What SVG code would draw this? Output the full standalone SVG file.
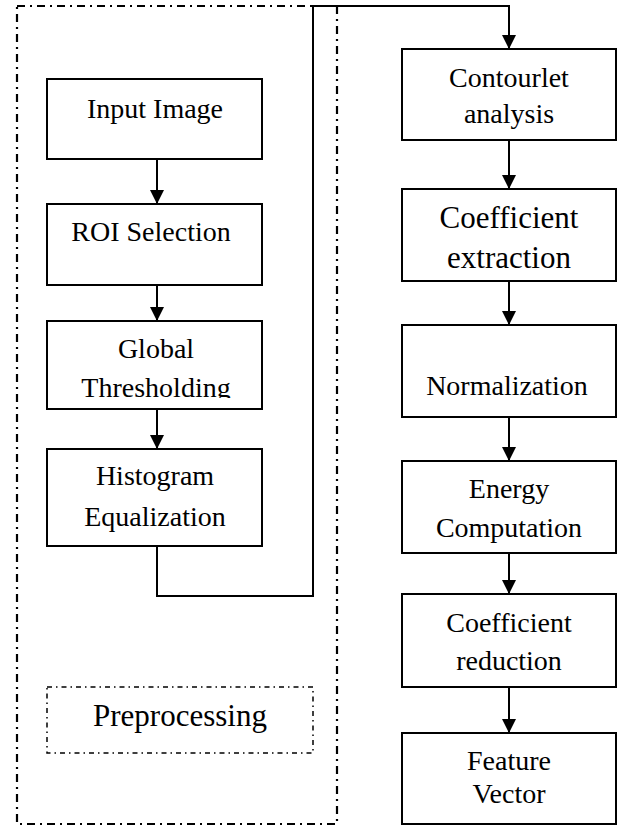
<svg xmlns="http://www.w3.org/2000/svg" width="618" height="826" viewBox="0 0 618 826">
<style>
.box{fill:#fff;stroke:#000;stroke-width:2}
text{font-family:'Liberation Serif','Times New Roman','DejaVu Serif',serif;font-size:28px;fill:#000;text-anchor:middle}
text.big{font-size:31px}
.ln{fill:none;stroke:#000;stroke-width:2}
.outer{fill:none;stroke:#000;stroke-width:2.2;stroke-dasharray:8 5 2 5}
.pre{fill:none;stroke:#000;stroke-width:1.5;stroke-dasharray:5 4 1.5 4}
</style>
<defs>
<marker id="ah" viewBox="0 0 14 14" refX="14" refY="7" markerWidth="14" markerHeight="14" markerUnits="userSpaceOnUse" orient="auto">
<path d="M0,0 L14,7 L0,14 Z" fill="#000"/>
</marker>
<clipPath id="clipThr"><rect x="47" y="321" width="215" height="77"/></clipPath>
</defs>
<rect class="outer" x="17" y="6" width="320" height="818"/>
<g id="preprocessing">
<rect class="pre" x="47" y="687" width="266" height="66"/>
<text class="big" x="180" y="726">Preprocessing</text>
</g>
<g id="connectors">
<line class="ln" x1="157" y1="159" x2="157" y2="204" marker-end="url(#ah)"/>
<line class="ln" x1="157" y1="285" x2="157" y2="321" marker-end="url(#ah)"/>
<line class="ln" x1="157" y1="409" x2="157" y2="449" marker-end="url(#ah)"/>
<polyline class="ln" points="157,546 157,596 313,596 313,6 509,6 509,49" marker-end="url(#ah)"/>
<line class="ln" x1="509" y1="140" x2="509" y2="189" marker-end="url(#ah)"/>
<line class="ln" x1="509" y1="281" x2="509" y2="325" marker-end="url(#ah)"/>
<line class="ln" x1="509" y1="417" x2="509" y2="461" marker-end="url(#ah)"/>
<line class="ln" x1="509" y1="553" x2="509" y2="594" marker-end="url(#ah)"/>
<line class="ln" x1="509" y1="687" x2="509" y2="733" marker-end="url(#ah)"/>
</g>
<g id="input-image">
<rect class="box" x="47" y="79" width="215" height="80"/>
<text x="155" y="118">Input Image</text>
</g>
<g id="roi-selection">
<rect class="box" x="47" y="204" width="215" height="81"/>
<text x="151" y="241">ROI Selection</text>
</g>
<g id="global-thresholding">
<rect class="box" x="47" y="321" width="215" height="88"/>
<g clip-path="url(#clipThr)">
<text x="156" y="358">Global</text>
<text x="156" y="397">Thresholding</text>
</g>
</g>
<g id="histogram-equalization">
<rect class="box" x="47" y="449" width="215" height="97"/>
<text x="155" y="485">Histogram</text>
<text x="155" y="526">Equalization</text>
</g>
<g id="contourlet-analysis">
<rect class="box" x="402" y="49" width="214" height="91"/>
<text x="509" y="87">Contourlet</text>
<text x="509" y="123">analysis</text>
</g>
<g id="coefficient-extraction">
<rect class="box" x="402" y="189" width="214" height="92"/>
<text class="big" x="509" y="228">Coefficient</text>
<text class="big" x="509" y="268">extraction</text>
</g>
<g id="normalization">
<rect class="box" x="402" y="325" width="214" height="92"/>
<text x="507" y="395">Normalization</text>
</g>
<g id="energy-computation">
<rect class="box" x="402" y="461" width="214" height="92"/>
<text x="509" y="498">Energy</text>
<text x="509" y="537">Computation</text>
</g>
<g id="coefficient-reduction">
<rect class="box" x="402" y="594" width="214" height="93"/>
<text x="509" y="632">Coefficient</text>
<text x="509" y="670">reduction</text>
</g>
<g id="feature-vector">
<rect class="box" x="402" y="733" width="214" height="91"/>
<text x="509" y="770">Feature</text>
<text x="509" y="803">Vector</text>
</g>
</svg>
